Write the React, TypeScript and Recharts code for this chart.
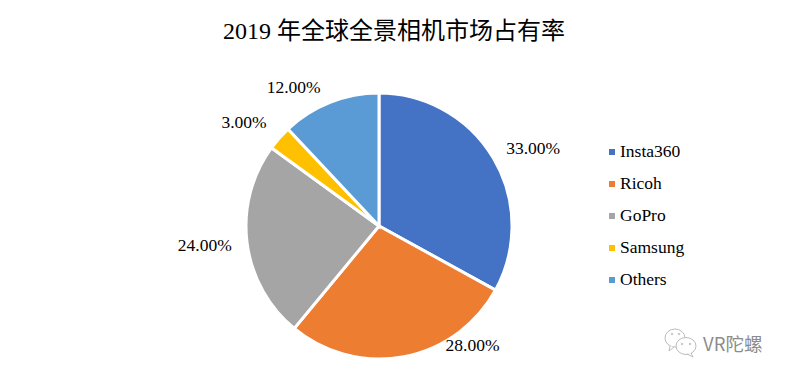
import { PieChart, Pie, Cell, Legend } from 'recharts'

const brands = ['Insta360', 'Ricoh', 'GoPro', 'Samsung', 'Others']
const shares = [33, 28, 24, 3, 12]
const COLORS = ['#4472c4', '#ed7d31', '#a5a5a5', '#ffc000', '#5b9bd5']
// nudges from the default radial label spot, by slice
const labelNudge = [[9.5, 8], [62, -46], [-7.5, -2], [-9, 7], [-23.5, 17]]

const data = brands.map((name, i) => ({ name, value: shares[i] }))
const FONT = '"Liberation Serif", "Noto Sans CJK SC", serif'

const RAD = Math.PI / 180

function renderLabel(props: any) {
  const { cx, cy, midAngle, outerRadius, index, value } = props
  const r = outerRadius + 35
  const x = cx + r * Math.cos(-midAngle * RAD) + labelNudge[index][0]
  const y = cy + r * Math.sin(-midAngle * RAD) + labelNudge[index][1]
  return (
    <text x={x} y={y} textAnchor="middle" dominantBaseline="central" fontSize={17.5} fontFamily={FONT} fill="#000">
      {value.toFixed(2)}%
    </text>
  )
}

function LegendBox() {
  return (
    <div style={{ fontFamily: FONT, fontSize: 17.5, color: '#000' }}>
      {brands.map((b, i) => (
        <div key={b} style={{ height: 32, display: 'flex', alignItems: 'center' }}>
          <span style={{ width: 6, height: 6, background: COLORS[i], marginRight: 5 }} />
          {b}
        </div>
      ))}
    </div>
  )
}

export default function App() {
  return (
    <div style={{ position: 'absolute', left: 0, top: 0, width: 788, height: 377, background: '#fff', overflow: 'hidden' }}>
      <div style={{ position: 'absolute', left: 0, top: 15, width: 788, textAlign: 'center', fontFamily: FONT, fontSize: 24, lineHeight: '32px', color: '#000' }}>
        <span style={{ position: 'relative', left: 0 }}>2019 年全球全景相机市场占有率</span>
      </div>
      <PieChart width={788} height={377} margin={{ top: 0, right: 0, bottom: 0, left: 0 }}>
        <Pie
          data={data}
          dataKey="value"
          nameKey="name"
          cx={379}
          cy={226}
          outerRadius={133}
          startAngle={90}
          endAngle={-270}
          stroke="#fff"
          strokeWidth={3}
          label={renderLabel}
          labelLine={false}
          isAnimationActive={false}
        >
          {data.map((d, i) => (
            <Cell key={d.name} fill={COLORS[i]} />
          ))}
        </Pie>
        <Legend content={<LegendBox />} layout="vertical" wrapperStyle={{ position: 'absolute', left: 609, top: 135.5, width: 120 }} />
      </PieChart>
      {/* 水印 */}
      <svg width={40} height={34} style={{ position: 'absolute', left: 662, top: 326 }} fill="#fff" stroke="#bdbdbd" strokeWidth={1}>
        <ellipse cx={13} cy={12} rx={10} ry={9} />
        <path d="M8 20 L7 25 L12 21" />
        <ellipse cx={24} cy={20} rx={10} ry={8.5} />
        <path d="M29 27 L31 31 L25 28" />
        <circle cx={10} cy={8} r={0.8} />
        <circle cx={17} cy={8} r={0.8} />
        <circle cx={20} cy={18} r={0.8} />
        <circle cx={28} cy={18} r={0.8} />
      </svg>
      <div style={{ position: 'absolute', left: 703, top: 332, fontFamily: '"Noto Sans CJK SC", sans-serif', fontSize: 18.5, lineHeight: '22px', color: '#8c8c8c' }}>
        VR陀螺
      </div>
    </div>
  )
}
